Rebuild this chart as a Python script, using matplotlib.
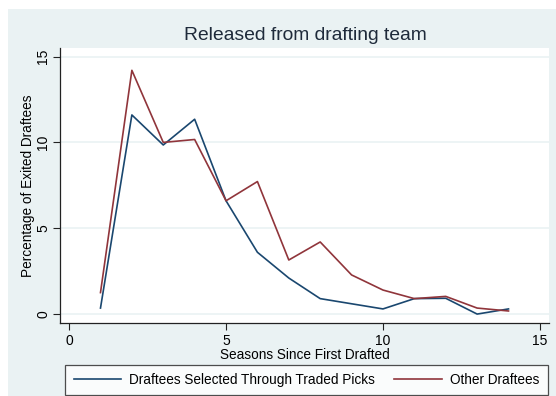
import matplotlib
matplotlib.use("Agg")
import matplotlib.pyplot as plt
from matplotlib.patches import Rectangle

plt.rcParams["font.family"] = ["Liberation Sans", "DejaVu Sans"]

# Data
seasons = [1, 2, 3, 4, 5, 6, 7, 8, 9, 10, 11, 12, 13, 14]
traded_picks = [0.35, 11.6, 9.85, 11.35, 6.6, 3.6, 2.1, 0.9, 0.6, 0.3, 0.9, 0.92, 0.0, 0.3]
other_draftees = [1.25, 14.2, 10.0, 10.17, 6.6, 7.72, 3.15, 4.2, 2.28, 1.4, 0.9, 1.03, 0.35, 0.18]

x_ticks = [0, 5, 10, 15]
y_ticks = [0, 5, 10, 15]

NAVY = "#1a476f"
MAROON = "#90353b"
PANEL = "#eaf2f3"

W, H = 556, 396
fig = plt.figure(figsize=(W / 100, H / 100), dpi=100)
fig.patch.set_facecolor("white")
fig.patches.append(Rectangle((8 / W, 0), 1, 1 - 9 / H, transform=fig.transFigure,
                             facecolor=PANEL, edgecolor="none", zorder=-10))

ax = fig.add_axes([60 / W, 1 - 323 / H, (549 - 60) / W, (323 - 48) / H])
ax.set_facecolor("white")
ax.plot(seasons, traded_picks, color=NAVY, lw=1.2,
        label="Draftees Selected Through Traded Picks")
ax.plot(seasons, other_draftees, color=MAROON, lw=1.2, label="Other Draftees")

ax.set_xlim(-0.29, 15.29)
ax.set_ylim(-0.52, 15.5)
ax.set_xticks(x_ticks)
ax.set_yticks(y_ticks)
ax.set_yticklabels([str(v) for v in y_ticks], rotation=90, va="center")
ax.tick_params(labelsize=10, length=5, width=0.8, color="#222222", pad=3)
ax.tick_params(axis="y", pad=2)
ax.grid(axis="y", color=PANEL, lw=1.2)
ax.set_axisbelow(True)
for s in ("top", "right"):
    ax.spines[s].set_visible(False)
for s in ("left", "bottom"):
    ax.spines[s].set_color("#222222")
    ax.spines[s].set_linewidth(0.9)

ax.set_xlabel("Seasons Since First Drafted", fontsize=9.8, labelpad=0)
ax.set_ylabel("Percentage of Exited Draftees", fontsize=9.8, labelpad=1)
fig.text(305 / W, 1 - 36 / H, "Released from drafting team", fontsize=13.9,
         ha="center", va="center", color="#1e2a3a")

leg = fig.legend(loc="lower center", bbox_to_anchor=(306.5 / W, 1 / H),
                 ncol=2, fontsize=9.8, frameon=True, fancybox=False,
                 handlelength=3.5, handletextpad=0.6, columnspacing=1.4,
                 borderaxespad=0, borderpad=0.6)
leg.get_frame().set_edgecolor("#222222")
leg.get_frame().set_linewidth(0.9)

fig.savefig("out.png", dpi=100)
